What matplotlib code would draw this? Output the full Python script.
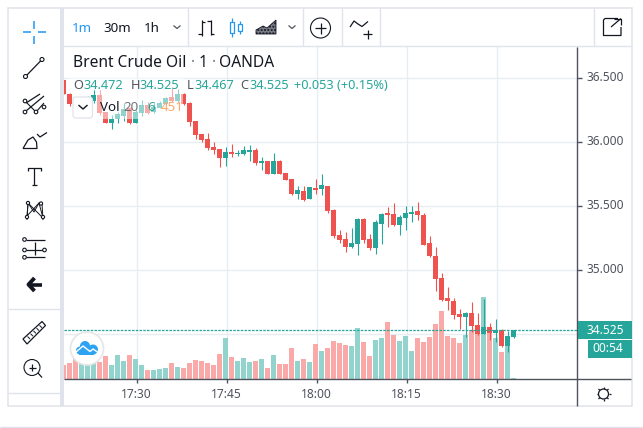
import numpy as np
import matplotlib
matplotlib.use("Agg")
import matplotlib.pyplot as plt
from matplotlib.patches import Rectangle, Circle, FancyBboxPatch, Polygon

plt.rcParams['font.family'] = ['Noto Sans', 'DejaVu Sans']

# ---------- data ----------
minutes = list(range(-12, 64))  # minutes relative to 17:30
opens = [36.480,36.371,36.293,36.262,36.293,36.320,36.363,36.230,36.145,36.176,36.199,36.262,36.145,36.223,36.285,36.230,36.262,36.293,36.348,36.316,36.371,36.301,36.160,36.059,36.020,35.957,35.941,35.871,35.918,35.902,35.902,35.918,35.934,35.832,35.848,35.746,35.848,35.754,35.707,35.590,35.613,35.551,35.637,35.629,35.652,35.465,35.270,35.238,35.176,35.199,35.395,35.238,35.168,35.355,35.441,35.434,35.348,35.402,35.434,35.457,35.426,35.207,35.105,34.934,34.777,34.754,34.652,34.629,34.660,34.566,34.496,34.551,34.504,34.527,34.402,34.472]
highs = [36.480,36.379,36.324,36.285,36.355,36.410,36.402,36.230,36.207,36.230,36.301,36.270,36.246,36.324,36.309,36.309,36.316,36.348,36.418,36.410,36.379,36.309,36.160,36.059,36.066,35.996,35.941,35.957,35.980,35.934,35.965,35.973,35.949,35.879,35.848,35.910,35.855,35.754,35.707,35.652,35.652,35.645,35.707,35.746,35.652,35.473,35.309,35.293,35.324,35.402,35.402,35.277,35.387,35.441,35.488,35.520,35.426,35.496,35.496,35.527,35.441,35.262,35.176,34.973,34.863,34.777,34.691,34.668,34.746,34.660,34.770,34.582,34.613,34.535,34.520,34.525]
lows = [36.371,36.281,36.246,36.246,36.262,36.301,36.207,36.145,36.098,36.145,36.160,36.137,36.145,36.199,36.215,36.223,36.262,36.277,36.309,36.309,36.285,36.121,36.020,35.996,35.934,35.902,35.801,35.809,35.879,35.887,35.895,35.848,35.816,35.777,35.746,35.746,35.746,35.699,35.582,35.551,35.535,35.551,35.590,35.582,35.441,35.246,35.207,35.137,35.168,35.113,35.207,35.152,35.121,35.199,35.332,35.340,35.270,35.309,35.371,35.387,35.191,35.098,34.832,34.754,34.684,34.613,34.535,34.473,34.512,34.488,34.496,34.449,34.434,34.395,34.355,34.467]
closes = [36.371,36.293,36.262,36.293,36.316,36.363,36.223,36.145,36.176,36.215,36.254,36.145,36.230,36.285,36.223,36.270,36.301,36.340,36.316,36.371,36.293,36.152,36.051,36.012,35.949,35.934,35.871,35.918,35.902,35.910,35.934,35.934,35.832,35.848,35.746,35.848,35.750,35.699,35.590,35.621,35.543,35.645,35.621,35.660,35.457,35.262,35.230,35.176,35.207,35.395,35.230,35.168,35.371,35.434,35.426,35.348,35.410,35.441,35.449,35.426,35.191,35.105,34.926,34.762,34.754,34.645,34.629,34.660,34.559,34.496,34.551,34.504,34.527,34.402,34.480,34.525]
volumes = [14,16,23,18,16,18,17,23,14,24,18,24,20,14,9,9,10,11,16,12,11,16,19,18,16,14,25,41,22,18,21,17,18,20,11,24,15,15,31,18,20,17,35,28,31,38,36,34,33,51,37,23,39,41,57,44,38,43,28,41,37,42,55,68,43,41,36,44,49,50,82,49,41,27,43,1]
price_ticks = [36.5, 36.0, 35.5, 35.0]
price_labels = ["36.500", "36.000", "35.500", "35.000"]
grid_prices = [36.5, 36.0, 35.5, 35.0, 34.5]
time_ticks = [0, 15, 30, 45, 60]
time_labels = ["17:30", "17:45", "18:00", "18:15", "18:30"]

RED, TEAL = "#EF5350", "#26A69A"
RED_V, TEAL_V = "#F9A9A7", "#93D3CD"
GRID, FRAME, DARK, INK = "#E6EEF3", "#E0E3EB", "#50535E", "#131722"

W, H = 643, 428
fig = plt.figure(figsize=(W/100, H/100), dpi=100, facecolor="white")

def box(l, t, r, b):
    return [l/W, 1-b/H, (r-l)/W, (b-t)/H]

L, T, R, B = 64, 46, 577, 379
x0, x1 = (L-135.5)/6, (R-135.5)/6
y_top, y_bot = 37.1055-T/128, 37.1055-B/128

axv = fig.add_axes(box(L, T, R, B), zorder=1)
axv.set_xlim(x0, x1); axv.set_ylim(0, B-T)
axv.set_xticks([]); axv.set_yticks([])
for s in axv.spines.values(): s.set_visible(False)

ax = fig.add_axes(box(L, T, R, B), zorder=2)
ax.patch.set_alpha(0)
ax.set_xlim(x0, x1); ax.set_ylim(y_bot, y_top)
ax.set_xticks([]); ax.set_yticks([])
for s in ax.spines.values(): s.set_visible(False)

# grid under the volumes
for t in time_ticks:
    axv.axvline(t+1/6, color=GRID, lw=1.0, zorder=0)
gridtrans = axv.get_yaxis_transform()
for p in grid_prices:
    axv.plot([0, 1], [(p-y_bot)*128]*2, transform=gridtrans, color=GRID, lw=1.0, zorder=0)

up = [c >= o for o, c in zip(opens, closes)]
axv.bar(minutes, volumes, width=5.2/6, color=[TEAL_V if u else RED_V for u in up], linewidth=0, zorder=2)

colors = [TEAL if u else RED for u in up]
ax.vlines(minutes, lows, highs, colors=colors, lw=0.8, zorder=3)
ax.bar(minutes, [max(abs(c-o), 0.006) for o, c in zip(opens, closes)],
       bottom=[min(o, c) for o, c in zip(opens, closes)], width=5.2/6,
       color=colors, linewidth=0, zorder=4)
ax.axhline(closes[-1], color=TEAL, lw=0.9, ls=(0, (2, 1)), zorder=5)

# ---------- UI overlay in pixel coordinates ----------
ui = fig.add_axes([0, 0, 1, 1], zorder=5)
ui.set_xlim(0, W); ui.set_ylim(H, 0); ui.axis("off"); ui.patch.set_alpha(0)

def line(xs, ys, c=INK, lw=0.9, **k):
    ui.plot(xs, ys, color=c, lw=lw, solid_capstyle=k.pop("cap", "butt"), **k)
def ring(x, y, r, c=INK, lw=0.8, fc="white"):
    ui.add_patch(Circle((x, y), r, fc=fc, ec=c, lw=lw, zorder=6))
def label(x, y, s, c=DARK, fs=8.6, ha="left", **k):
    ui.text(x, y, s, color=c, fontsize=fs, ha=ha, va="center", **k)

# translucent legend backing
ui.add_patch(Rectangle((96, 78), 87, 40.5, fc="white", ec="none", alpha=0.5))
ui.add_patch(Rectangle((68, 78), 28, 13, fc="white", ec="none", alpha=0.5))

# frame
ui.add_patch(Rectangle((8, 8), 623.5, 398, fc="none", ec=FRAME, lw=1.1))
ui.add_patch(Rectangle((60, 8), 4, 398, fc=FRAME, ec="none"))
line([60, 631], [46.3, 46.3], FRAME, 1.0)
for sx in [187.5, 302.5, 341.7, 380.3, 593.5]:
    line([sx, sx], [8, 46], FRAME, 1.0)
line([8, 60], [308.5, 308.5], FRAME, 1.0)
line([8, 60], [393.3, 393.3], FRAME, 1.0)
line([0, 643], [427.3, 427.3], FRAME, 1.0)

# axes lines & ticks
line([577.4, 577.4], [47, 406], DARK, 1.0)
line([64, 631], [379.3, 379.3], DARK, 1.0)
for t, s in zip(time_ticks, time_labels):
    px = 135.5+6*t+1
    line([px, px], [379, 383], DARK, 1.0)
    label(px, 394, s, ha="center", fontweight="bold" if s == "18:00" else "normal")
for p, s in zip(price_ticks, price_labels):
    py = (37.1055-p)*128
    line([577, 582], [py, py], DARK, 1.0)
    label(586.5, py, s)
py = (37.1055-34.5)*128
line([577, 582], [py, py], DARK, 1.0)

# price tags
ui.add_patch(Rectangle((577.5, 321), 54, 18, fc=TEAL, ec="none", zorder=6))
ui.add_patch(Rectangle((588, 340), 43.5, 18, fc=TEAL, ec="none", zorder=6))
ui.text(586.5, 330, "34.525", color="white", fontsize=8.6, va="center", zorder=7)
ui.text(592, 349, "00:54", color="white", fontsize=8.6, va="center", zorder=7)

# title and legend
for x, s, c, fs in [(73, "Brent Crude Oil", INK, 11.2), (190.5, "·", "#787B86", 11.2), (199, "1", INK, 11.2),
                    (211.5, "·", "#787B86", 11.2), (219, "OANDA", INK, 11.2)]:
    label(x, 63, s, c, fs)
for x, s, c in [(73, "O", DARK), (83, "34.472", TEAL), (130.5, "H", DARK), (139.5, "34.525", TEAL),
                (186.5, "L", DARK), (194, "34.467", TEAL), (240, "C", DARK), (249, "34.525", TEAL),
                (294, "+0.053 (+0.15%)", TEAL)]:
    label(x, 85, s, c, 9.2)
ui.add_patch(FancyBboxPatch((75, 99), 15.5, 17, boxstyle="round,pad=2,rounding_size=3", fc="white", ec=FRAME, lw=0.9, zorder=6))
ui.plot([79, 83, 87], [105.5, 109, 105.5], color=INK, lw=1.0, zorder=7)
label(100, 107, "Vol", INK, 9.6)
label(123, 107, "20", DARK, 9.6, alpha=0.8)
label(147, 107, "6", TEAL, 9.6)
label(160.5, 107, "451", "#FFA76A", 9.6)

# top toolbar
label(72, 28, "1m", "#2196F3", 9.6)
label(103, 28, "30m", INK, 9.6)
label(144, 28, "1h", INK, 9.6)
for cx in [177, 292]:
    line([cx-3.5, cx, cx+3.5], [25.5, 28.5, 25.5], DARK, 0.9)
line([201.5, 201.5], [20, 35.5]); line([198, 201.5], [34, 34]); line([201.5, 205], [22, 22])
line([210.5, 210.5], [19.5, 35]); line([207, 210.5], [21, 21]); line([210.5, 214], [34, 34])
BL = "#2196F3"
ui.add_patch(Rectangle((229.5, 22), 4, 11, fc="white", ec=BL, lw=0.9)); line([231.5, 231.5], [18, 22], BL, 0.9); line([231.5, 231.5], [33, 36.5], BL, 0.9)
ui.add_patch(Rectangle((237.5, 24), 4, 7, fc="white", ec=BL, lw=0.9)); line([239.5, 239.5], [21, 24], BL, 0.9); line([239.5, 239.5], [31, 34], BL, 0.9)
ui.add_patch(Polygon([(256, 34), (256, 30), (263, 26), (267, 28), (276, 20), (276, 34)], fc="#7a7d86", ec=INK, lw=0.6, hatch="....."))
ring(320.5, 28, 10)
line([315, 326], [28, 28], zorder=7); line([320.5, 320.5], [22.5, 33.5], zorder=7)
line([350, 354, 358, 362, 368], [27, 21, 24, 26.5, 21.5], INK, 0.9)
line([363, 372], [34, 34]); line([367.5, 367.5], [29.5, 38.5])
line([618, 605, 603.5, 603.5, 621, 621], [18.5, 18.5, 20, 35.5, 35.5, 27], INK, 0.9)
line([611, 621], [27, 18.5], INK, 0.9); line([614, 621, 621], [18.5, 18.5, 25], INK, 0.9)

# left toolbar
for xs, ys in [([23, 30.7], [32.3, 32.3]), ([38.3, 46], [32.3, 32.3]), ([34.3, 34.3], [21, 29]), ([34.3, 34.3], [36, 43.7])]:
    line(xs, ys, BL, 1.1)
line([25.5, 42], [76.5, 59.5]); ring(25.5, 76.5, 2); ring(42, 59.5, 2)
line([26, 40], [103, 94]); line([26, 44], [111, 96]); line([36, 27, 25], [112, 103, 100], lw=0.8); line([36, 44], [112, 103], lw=0.8)
ring(25, 101, 1.8); ring(25, 112, 1.8); ring(36, 112, 1.8); ring(44, 107, 1.8)
line([23, 37, 36.5, 33, 28, 23], [148.5, 148.5, 142, 137, 140, 148.5], INK, 0.9)
line([37, 40, 47], [134, 137, 132.5], INK, 0.9)
line([28, 28, 41, 41], [171, 167.5, 167.5, 171]); line([34.3, 34.3], [167.5, 184.5]); line([31.5, 37], [184.7, 184.7])
line([27, 28, 34, 39, 42, 43], [220, 203, 212, 203, 203.5, 220], lw=0.7); line([27, 39, 43, 28, 27], [216, 203, 218, 203, 216], lw=0.7)
for p in [(28, 203), (41, 203.5), (27, 217), (43, 217)]:
    ring(p[0], p[1], 1.6)
for yy in [239.5, 250, 257.3]:
    line([26, 45], [yy, yy])
line([34.5, 34.5], [242, 255]); ring(24.5, 239.5, 1.8); ring(24.5, 250, 1.8); ring(24.5, 257.3, 1.8); ring(44.5, 250, 1.8)
line([42, 29], [284.5, 284.5], INK, 2.6); line([34.5, 28.5, 34.5], [278, 284.5, 291], INK, 2.8)
ui.add_patch(Polygon([(23, 339), (42, 321.5), (45.5, 325.5), (27, 344)], fc="white", ec=INK, lw=0.9))
for i in range(5):
    line([27.5+3*i, 30+3*i], [336.5-2.8*i, 339-2.8*i], INK, 0.7)
ring(32, 367.5, 8)
line([28.5, 35.5], [367.5, 367.5], zorder=7); line([32, 32], [364, 371], zorder=7); line([38, 42], [373, 377.5])

# logo
ui.add_patch(Circle((87, 348.5), 16.5, fc="white", ec="#E6E6E6", lw=1.2, zorder=6))
LOGO = "#2EA3F2"
for cx, cy, r in [(80, 350.5, 4), (85, 346, 5), (93, 349.5, 5)]:
    ui.add_patch(Circle((cx, cy), r, fc=LOGO, ec="none", zorder=7))
ui.add_patch(Rectangle((79, 349), 15, 5.5, fc=LOGO, ec="none", zorder=7))
ui.plot([76, 83, 90, 93, 99], [352, 346, 351.5, 349, 353], color="white", lw=1.0, zorder=8)

# settings gear
ring(603.5, 394, 5, INK, 0.9)
for dx, dy in [(0, -7), (0, 7), (-7, 0), (7, 0), (-5, -5), (5, -5), (-5, 5), (5, 5)]:
    line([603.5+dx*.75, 603.5+dx], [394+dy*.75, 394+dy], INK, 0.9, zorder=7)

fig.savefig("out.png", dpi=100)
